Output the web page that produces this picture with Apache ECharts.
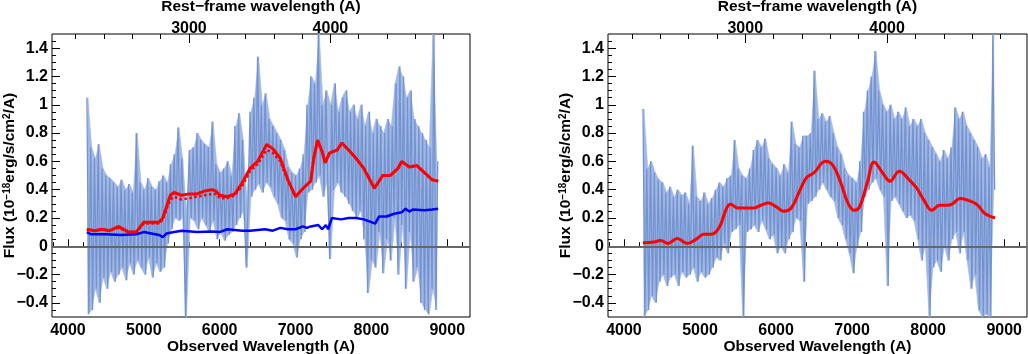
<!DOCTYPE html>
<html>
<head>
<meta charset="utf-8">
<script src="https://cdn.jsdelivr.net/npm/echarts@6/dist/echarts.min.js"></script>
<style>
  html, body { margin: 0; padding: 0; background: #fff; }
  #main { width: 1028px; height: 354px; }
</style>
</head>
<body>
<div id="main"></div>
<script>
// axis ranges (observed frame) and redshift for the rest-frame top axis
var xMin = 3790, xMax = 9300
var yMin = -0.5, yMax = 1.5
var onePlusZ = 1.865

// tick positions
var obsTicks = [4000, 5000, 6000, 7000, 8000, 9000]
var obsMinor = [3800, 4200, 4400, 4600, 4800, 5200, 5400, 5600, 5800, 6200, 6400, 6600, 6800,
    7200, 7400, 7600, 7800, 8200, 8400, 8600, 8800, 9200]
var restTicks = [3000, 4000]
var restMinor = [2200, 2400, 2600, 2800, 3200, 3400, 3600, 3800, 4200, 4400, 4600, 4800]
var fluxTicks = [-0.4, -0.2, 0, 0.2, 0.4, 0.6, 0.8, 1, 1.2, 1.4]
var fluxMinor = [-0.45, -0.35, -0.3, -0.25, -0.15, -0.1, -0.05, 0.05, 0.1, 0.15, 0.25, 0.3, 0.35,
    0.45, 0.5, 0.55, 0.65, 0.7, 0.75, 0.85, 0.9, 0.95, 1.05, 1.1, 1.15, 1.25, 1.3, 1.35, 1.45]

var specStart = 4250, specStep = 25
var specFlux1 = [
    1.05, -0.48, 0.70, -0.45, 0.62, -0.30, 0.72, -0.40,
    0.55, -0.22, 0.50, -0.30, 0.48, -0.18, 0.45, -0.25,
    0.42, -0.20, 0.47, -0.15, 0.40, -0.24, 0.44, -0.12,
    0.38, -0.20, 0.80, -0.10, 0.45, -0.15, 0.40, -0.20,
    0.48, -0.08, 0.42, -0.22, 0.40, -0.12, 0.46, -0.18,
    0.50, -0.15, 0.45, 0.02, 0.58, 0.12, 0.65, 0.20,
    0.84, 0.18, 0.62, 0.20, -0.52, 0.25, 0.68, 0.20,
    0.70, 0.18, 0.80, 0.12, 0.75, 0.20, 0.72, 0.15,
    0.70, 0.10, 0.88, 0.18, 0.58, 0.05, 0.52, 0.10,
    0.55, 0.04, 0.60, 0.08, 0.50, 0.10, 0.85, 0.15,
    0.94, 0.20, 0.75, 0.25, -0.15, 0.30, 0.95, 0.35,
    1.05, 0.40, 1.34, 0.44, 1.00, 0.38, 1.08, 0.45,
    0.90, 0.42, 0.85, 0.35, 0.80, 0.30, 0.75, 0.20,
    0.68, 0.18, 0.56, 0.05, 0.52, 0.02, 0.50, -0.08,
    0.55, 0.05, 0.65, 0.10, 1.00, 0.38, 1.20, 0.40,
    1.15, 0.45, 1.50, 0.50, 1.00, 0.35, 1.10, 0.45,
    -0.09, 1.00, 0.40, 1.15, 0.45, 0.95, 0.38, 1.05,
    0.35, 1.10, 0.30, 0.95, 0.25, 1.00, 0.20, 0.90,
    0.25, 1.00, 0.05, 0.85, -0.33, 0.95, -0.10, 0.80,
    -0.15, 0.90, 0.10, 0.85, -0.19, 0.80, 0.05, 0.90,
    -0.10, 0.85, 0.20, 1.15, -0.20, 1.27, 0.15, 1.20,
    -0.30, 1.05, 0.10, 1.10, -0.25, 0.90, -0.15, 0.85,
    -0.40, 0.80, -0.45, 0.75, -0.48, 0.70, -0.30, 1.50,
    -0.45, 0.60
]
var specFlux2 = [
    0.97, -0.50, 0.55, -0.45, 0.60, -0.35, 0.52, -0.40,
    0.47, -0.25, 0.45, -0.20, 0.38, -0.28, 0.42, -0.22,
    0.35, -0.20, 0.40, -0.28, 0.36, -0.18, 0.38, -0.22,
    0.30, -0.20, 0.71, -0.15, 0.35, -0.25, 0.32, -0.18,
    0.38, -0.22, 0.30, -0.20, 0.34, -0.15, 0.40, -0.08,
    0.45, -0.10, 0.42, 0.02, 0.48, -0.05, 0.50, 0.10,
    0.75, 0.12, 0.55, 0.15, 0.50, -0.50, 0.48, 0.10,
    0.55, 0.12, 0.68, 0.15, 0.75, 0.10, 0.70, 0.18,
    0.76, 0.12, 0.62, 0.05, 0.58, 0.08, 0.55, -0.05,
    0.50, 0.00, 0.58, -0.05, 0.52, 0.05, 0.88, 0.10,
    0.72, 0.20, 0.70, 0.18, 0.78, -0.25, 0.78, 0.30,
    0.80, 0.32, 1.24, 0.35, 0.90, 0.40, 0.94, 0.45,
    0.88, 0.40, 0.92, 0.35, 0.80, 0.32, 0.70, 0.20,
    0.65, 0.15, 0.55, 0.05, 0.50, -0.05, 0.48, -0.19,
    0.45, 0.00, 0.60, 0.10, 0.95, 0.35, 1.10, 0.40,
    1.20, 0.45, 1.38, 0.48, 1.10, 0.40, 1.00, 0.35,
    0.95, -0.28, 1.00, 0.32, 0.90, 0.35, 0.95, 0.30,
    0.90, 0.25, 0.98, 0.20, 0.85, 0.22, 0.90, 0.18,
    0.85, 0.05, 0.90, -0.10, 0.80, 0.00, 0.75, -0.52,
    0.70, -0.15, 0.65, -0.10, 0.60, -0.18, 0.68, 0.00,
    0.62, -0.10, 0.70, 0.05, 0.98, 0.10, 0.90, -0.05,
    0.95, 0.10, 0.85, -0.10, 0.80, -0.30, 0.75, -0.20,
    0.70, -0.45, 0.62, -0.50, 0.65, -0.48, 0.56, -0.50,
    1.50, 0.40
]

// left panel: total model (solid), model variant (dotted), host component (blue)
var modelWave1 = [4250, 4350, 4450, 4550, 4670, 4800, 4900, 5000, 5100, 5200, 5250, 5350, 5400, 5500,
    5600, 5700, 5800, 5900, 5950, 6000, 6100, 6200, 6300, 6400, 6500, 6620, 6700, 6800, 6900, 7000,
    7100, 7200, 7240, 7290, 7350, 7390, 7450, 7550, 7610, 7700, 7800, 7900, 8040, 8150, 8250, 8350,
    8400, 8500, 8600, 8700, 8800, 8880]
var modelFlux1 = [0.12, 0.11, 0.12, 0.11, 0.14, 0.10, 0.10, 0.17, 0.17, 0.17, 0.20, 0.36, 0.38, 0.36,
    0.37, 0.37, 0.39, 0.40, 0.39, 0.36, 0.35, 0.37, 0.45, 0.55, 0.60, 0.72, 0.69, 0.62, 0.47, 0.35,
    0.41, 0.46, 0.62, 0.75, 0.67, 0.59, 0.66, 0.68, 0.73, 0.68, 0.62, 0.55, 0.41, 0.50, 0.50, 0.55,
    0.60, 0.56, 0.57, 0.52, 0.47, 0.46]
var dottedFlux1 = [0.12, 0.11, 0.12, 0.11, 0.13, 0.10, 0.10, 0.16, 0.16, 0.16, 0.19, 0.33, 0.35, 0.33,
    0.34, 0.35, 0.36, 0.37, 0.37, 0.34, 0.34, 0.36, 0.43, 0.53, 0.58, 0.68, 0.66, 0.60, 0.46, 0.35,
    0.41, 0.46, 0.62, 0.75, 0.67, 0.59, 0.66, 0.68, 0.73, 0.68, 0.62, 0.55, 0.41, 0.50, 0.50, 0.55,
    0.60, 0.56, 0.57, 0.52, 0.47, 0.46]
var hostWave1 = [4250, 4300, 4500, 4700, 4900, 5000, 5100, 5200, 5250, 5300, 5400, 5500, 5700, 5900,
    6000, 6100, 6300, 6400, 6600, 6700, 6800, 6900, 7000, 7100, 7150, 7200, 7300, 7350, 7400, 7430,
    7480, 7600, 7700, 7800, 7900, 8000, 8050, 8100, 8200, 8300, 8400, 8450, 8500, 8550, 8700, 8800, 8880]
var hostFlux1 = [0.10, 0.085, 0.085, 0.08, 0.085, 0.10, 0.09, 0.08, 0.065, 0.09, 0.10, 0.11, 0.10, 0.105,
    0.10, 0.12, 0.11, 0.11, 0.12, 0.11, 0.13, 0.12, 0.12, 0.14, 0.13, 0.14, 0.15, 0.12, 0.15, 0.12,
    0.20, 0.19, 0.20, 0.20, 0.19, 0.17, 0.16, 0.21, 0.21, 0.23, 0.24, 0.265, 0.245, 0.26, 0.255, 0.26, 0.265]

// right panel: smooth model
var modelWave2 = [4250, 4400, 4480, 4580, 4700, 4830, 4950, 5050, 5150, 5250, 5350, 5400, 5500, 5600,
    5700, 5800, 5900, 6000, 6100, 6200, 6300, 6400, 6500, 6650, 6750, 6850, 6950, 7030, 7100, 7200,
    7290, 7400, 7500, 7620, 7750, 7850, 7950, 8050, 8150, 8250, 8320, 8420, 8550, 8650, 8750, 8880]
var modelFlux2 = [0.024, 0.03, 0.04, 0.02, 0.055, 0.02, 0.05, 0.085, 0.085, 0.13, 0.27, 0.297, 0.27, 0.27,
    0.27, 0.29, 0.305, 0.28, 0.247, 0.27, 0.38, 0.485, 0.52, 0.60, 0.57, 0.45, 0.30, 0.254, 0.28, 0.45,
    0.596, 0.52, 0.46, 0.53, 0.47, 0.41, 0.32, 0.254, 0.29, 0.29, 0.30, 0.337, 0.32, 0.29, 0.23, 0.20]

var font = 'Liberation Sans'
var specColor = '#7393d0'
var bandColor = '#a3b8e4'

function pairs(xs, ys) {
    return xs.map(function (x, i) { return [x, ys[i]] })
}
function specPairs(fl) {
    return fl.map(function (v, i) { return [specStart + i * specStep, v] })
}
// 相邻高低点两两一组, 相邻两组之间画一块四边形, 拼成填充带
function bandItems(fl) {
    var mids = []
    for (var i = 0; i + 1 < fl.length; i += 2) {
        mids.push([specStart + i * specStep + specStep / 2, Math.max(fl[i], fl[i + 1]), Math.min(fl[i], fl[i + 1])])
    }
    var out = []
    for (var k = 0; k + 1 < mids.length; k++) {
        out.push(mids[k].concat(mids[k + 1]))
    }
    return out
}
function renderBand(params, api) {
    var cs = params.coordSys
    var pts = [
        api.coord([api.value(0), api.value(1)]),
        api.coord([api.value(3), api.value(4)]),
        api.coord([api.value(3), api.value(5)]),
        api.coord([api.value(0), api.value(2)])
    ]
    pts = echarts.graphic.clipPointsByRect(pts, { x: cs.x, y: cs.y, width: cs.width, height: cs.height })
    return {
        type: 'polygon',
        shape: { points: pts },
        style: { fill: bandColor, stroke: bandColor, lineWidth: 0.6 }
    }
}
// 负号用长横线，不加千位分隔符
function plainLabel(v) {
    return String(v).replace('-', '\u2212')
}

var tickTxt = { fontFamily: font, fontWeight: 'bold', fontSize: 16, color: '#000' }
var titleTxt = { fontFamily: font, fontWeight: 'bold', fontSize: 15.5, color: '#000' }
var tickLine = { color: '#000', width: 1 }

var grids = [
    { left: 52, right: 558, top: 34, bottom: 37, show: true, borderColor: '#000', borderWidth: 1, outerBoundsMode: 'none' },
    { left: 608, right: 1, top: 34, bottom: 37, show: true, borderColor: '#000', borderWidth: 1, outerBoundsMode: 'none' }
]
var xAxes = []
var yAxes = []

// 4 x axes and 2 y axes for each panel
function addAxes(g) {
    xAxes.push({
        gridIndex: g, type: 'value', position: 'bottom', min: xMin, max: xMax,
        name: 'Observed Wavelength (A)', nameLocation: 'middle', nameGap: 22, nameMoveOverlap: false,
        nameTextStyle: titleTxt,
        axisLine: { show: false }, splitLine: { show: false },
        axisTick: { inside: true, length: 7, customValues: obsTicks, lineStyle: tickLine },
        axisLabel: Object.assign({ customValues: obsTicks, margin: 6, formatter: plainLabel }, tickTxt)
    })
    xAxes.push({
        gridIndex: g, type: 'value', position: 'bottom', min: xMin, max: xMax,
        axisLine: { show: false }, splitLine: { show: false }, axisLabel: { show: false },
        axisTick: { inside: true, length: 4, customValues: obsMinor, lineStyle: tickLine }
    })
    xAxes.push({
        gridIndex: g, type: 'value', position: 'top', min: xMin / onePlusZ, max: xMax / onePlusZ,
        name: 'Rest\u2212frame wavelength (A)', nameLocation: 'middle', nameGap: 19, nameMoveOverlap: false,
        nameTextStyle: titleTxt,
        axisLine: { show: false }, splitLine: { show: false },
        axisTick: { inside: true, length: 9, customValues: restTicks, lineStyle: tickLine },
        axisLabel: Object.assign({ customValues: restTicks, margin: -3, formatter: plainLabel }, tickTxt)
    })
    xAxes.push({
        gridIndex: g, type: 'value', position: 'top', min: xMin / onePlusZ, max: xMax / onePlusZ,
        axisLine: { show: false }, splitLine: { show: false }, axisLabel: { show: false },
        axisTick: { inside: true, length: 5, customValues: restMinor, lineStyle: tickLine }
    })
    yAxes.push({
        gridIndex: g, type: 'value', position: 'left', min: yMin, max: yMax,
        name: '{a|Flux (10}{s|\u221218}{a|erg/s/cm}{s|2}{a|/A)}',
        nameLocation: 'middle', nameGap: 32, nameRotate: 90, nameMoveOverlap: false,
        nameTextStyle: {
            rich: {
                a: { fontFamily: font, fontWeight: 'bold', fontSize: 15.5, color: '#000', lineHeight: 18, verticalAlign: 'top' },
                s: { fontFamily: font, fontWeight: 'bold', fontSize: 10, color: '#000', lineHeight: 8, verticalAlign: 'top' }
            }
        },
        axisLine: { show: false }, splitLine: { show: false },
        axisTick: { inside: true, length: 8, customValues: fluxTicks, lineStyle: tickLine },
        axisLabel: Object.assign({ customValues: fluxTicks, margin: 4, formatter: plainLabel }, tickTxt)
    })
    yAxes.push({
        gridIndex: g, type: 'value', position: 'left', min: yMin, max: yMax,
        axisLine: { show: false }, splitLine: { show: false }, axisLabel: { show: false },
        axisTick: { inside: true, length: 4, customValues: fluxMinor, lineStyle: tickLine }
    })
}
addAxes(0)
addAxes(1)

var zeroLine = {
    silent: true, symbol: 'none', label: { show: false },
    lineStyle: { color: '#666', width: 2, type: 'solid' },
    data: [{ yAxis: 0 }]
}

// 光谱: 浅色填充带 + 深色细折线
function spectrumSeries(fl, xi, yi) {
    return [
        { type: 'custom', xAxisIndex: xi, yAxisIndex: yi, data: bandItems(fl), renderItem: renderBand,
          encode: { x: [0, 3], y: [1, 2, 4, 5] }, z: 1, silent: true },
        { type: 'line', xAxisIndex: xi, yAxisIndex: yi, data: specPairs(fl), showSymbol: false,
          lineStyle: { color: specColor, width: 1.3 }, z: 2 }
    ]
}

var series = [].concat(
    spectrumSeries(specFlux1, 0, 0),
    [
        { type: 'line', xAxisIndex: 0, yAxisIndex: 0, data: pairs(hostWave1, hostFlux1), showSymbol: false,
          lineStyle: { color: '#0000ff', width: 2.5 }, z: 3, markLine: zeroLine },
        { type: 'line', xAxisIndex: 0, yAxisIndex: 0, data: pairs(modelWave1, dottedFlux1), showSymbol: false,
          lineStyle: { color: '#ff0000', width: 2.5, type: 'dotted' }, z: 4 },
        { type: 'line', xAxisIndex: 0, yAxisIndex: 0, data: pairs(modelWave1, modelFlux1), showSymbol: false,
          lineStyle: { color: '#ff0000', width: 3 }, z: 5 }
    ],
    spectrumSeries(specFlux2, 4, 2),
    [
        { type: 'line', xAxisIndex: 4, yAxisIndex: 2, data: pairs(modelWave2, modelFlux2), showSymbol: false,
          smooth: 0.4, lineStyle: { color: '#ff0000', width: 3 }, z: 5, markLine: zeroLine }
    ]
)

var myChart = echarts.init(document.getElementById('main'))
myChart.setOption({
    animation: false,
    backgroundColor: '#fff',
    grid: grids,
    xAxis: xAxes,
    yAxis: yAxes,
    series: series
})
</script>
</body>
</html>
